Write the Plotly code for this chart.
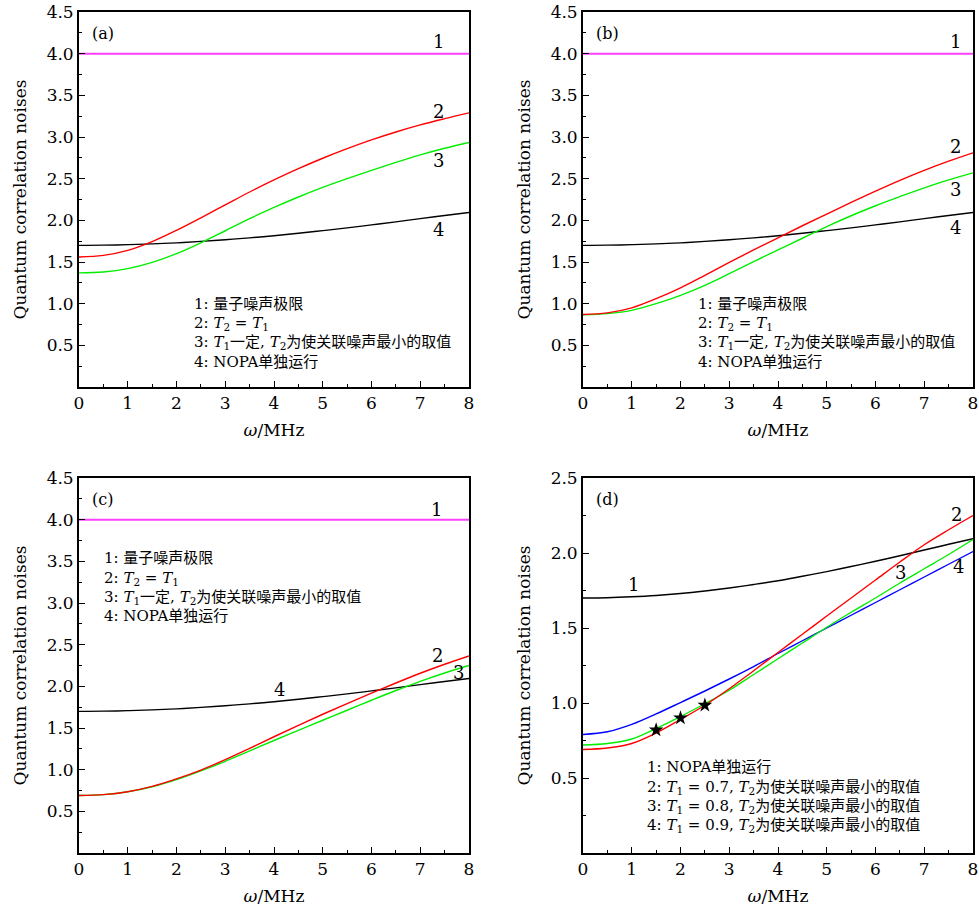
import plotly.graph_objects as go

# ---------------- data ----------------
omega = [0, 0.5, 1, 1.5, 2, 2.5, 3, 3.5, 4, 4.5, 5, 5.5, 6, 6.5, 7, 7.5, 8]

qnl = [4.0] * len(omega)
nopa = [1.700, 1.702, 1.708, 1.717, 1.730, 1.747, 1.767, 1.790, 1.815, 1.845, 1.876, 1.910, 1.945, 1.982, 2.020, 2.058, 2.095]

a_red = [1.560, 1.580, 1.640, 1.745, 1.880, 2.030, 2.185, 2.340, 2.485, 2.620, 2.745, 2.860, 2.965, 3.060, 3.145, 3.220, 3.290]
a_green = [1.370, 1.380, 1.420, 1.495, 1.600, 1.730, 1.875, 2.020, 2.155, 2.280, 2.395, 2.500, 2.600, 2.695, 2.785, 2.865, 2.935]

b_red = [0.870, 0.890, 0.950, 1.060, 1.190, 1.340, 1.495, 1.645, 1.790, 1.935, 2.075, 2.215, 2.350, 2.480, 2.600, 2.710, 2.810]
b_green = [0.865, 0.880, 0.920, 1.000, 1.100, 1.220, 1.360, 1.505, 1.645, 1.785, 1.925, 2.055, 2.175, 2.285, 2.390, 2.485, 2.570]

c_red = [0.690, 0.700, 0.735, 0.800, 0.890, 0.995, 1.120, 1.255, 1.395, 1.532, 1.665, 1.793, 1.918, 2.040, 2.157, 2.265, 2.365]
c_green = [0.690, 0.700, 0.735, 0.795, 0.880, 0.985, 1.100, 1.225, 1.350, 1.472, 1.593, 1.713, 1.833, 1.950, 2.060, 2.160, 2.250]

d_red = [0.690, 0.700, 0.730, 0.800, 0.890, 0.985, 1.095, 1.215, 1.337, 1.458, 1.580, 1.700, 1.820, 1.940, 2.055, 2.155, 2.250]
d_green = [0.720, 0.730, 0.760, 0.830, 0.910, 0.995, 1.085, 1.190, 1.295, 1.400, 1.505, 1.605, 1.700, 1.800, 1.895, 1.990, 2.090]
d_blue = [0.790, 0.808, 0.857, 0.927, 1.003, 1.080, 1.160, 1.243, 1.330, 1.415, 1.500, 1.585, 1.670, 1.755, 1.840, 1.925, 2.010]

star_x = [1.5, 2.0, 2.5]
star_y = [0.82, 0.90, 0.985]

x_ticks = [0, 1, 2, 3, 4, 5, 6, 7, 8]
y_ticks_abc = [0.5, 1.0, 1.5, 2.0, 2.5, 3.0, 3.5, 4.0, 4.5]
y_ticks_d = [0.5, 1.0, 1.5, 2.0, 2.5]

legend_abc = [
    "1: 量子噪声极限",
    "2: <i>T</i><sub>2</sub> = <i>T</i><sub>1</sub>",
    "3: <i>T</i><sub>1</sub>一定, <i>T</i><sub>2</sub>为使关联噪声最小的取值",
    "4: NOPA单独运行",
]
legend_d = [
    "1: NOPA单独运行",
    "2: <i>T</i><sub>1</sub> = 0.7, <i>T</i><sub>2</sub>为使关联噪声最小的取值",
    "3: <i>T</i><sub>1</sub> = 0.8, <i>T</i><sub>2</sub>为使关联噪声最小的取值",
    "4: <i>T</i><sub>1</sub> = 0.9, <i>T</i><sub>2</sub>为使关联噪声最小的取值",
]

# ---------------- style ----------------
FONT = "DejaVu Serif, Noto Sans CJK SC, serif"
MAG = "#ff40ff"
RED = "#ff0000"
GREEN = "#00ee00"
BLUE = "#0000ff"
BLACK = "#000000"
LW = 1.4

W, H = 979, 910
def px_x(a, b):
    return [a / W, b / W]
def px_y(top, bottom):
    return [1 - bottom / H, 1 - top / H]

panels = {
    1: dict(xd=px_x(79, 469), yd=px_y(12, 387)),
    2: dict(xd=px_x(583, 973), yd=px_y(12, 387)),
    3: dict(xd=px_x(79, 469), yd=px_y(478, 853)),
    4: dict(xd=px_x(583, 973), yd=px_y(478, 853)),
}

fig = go.Figure()

def add_line(n, y, color, width=LW):
    xa = "x" if n == 1 else f"x{n}"
    ya = "y" if n == 1 else f"y{n}"
    fig.add_trace(go.Scatter(x=omega, y=y, mode="lines", line=dict(color=color, width=width, shape="spline", smoothing=1.0),
                             xaxis=xa, yaxis=ya, showlegend=False, hoverinfo="skip"))

# panel a
add_line(1, qnl, MAG, 2); add_line(1, nopa, BLACK); add_line(1, a_green, GREEN); add_line(1, a_red, RED)
# panel b
add_line(2, qnl, MAG, 2); add_line(2, nopa, BLACK); add_line(2, b_green, GREEN); add_line(2, b_red, RED)
# panel c
add_line(3, qnl, MAG, 2); add_line(3, nopa, BLACK); add_line(3, c_green, GREEN); add_line(3, c_red, RED)
# panel d
add_line(4, nopa, BLACK); add_line(4, d_blue, BLUE); add_line(4, d_green, GREEN); add_line(4, d_red, RED)
fig.add_trace(go.Scatter(x=star_x, y=star_y, mode="markers", marker=dict(symbol="star", size=11, color=BLACK),
                         xaxis="x4", yaxis="y4", showlegend=False, hoverinfo="skip"))

layout = dict(template="none", width=W, height=H, margin=dict(l=0, r=0, t=0, b=0),
              paper_bgcolor="white", plot_bgcolor="white", showlegend=False,
              font=dict(family=FONT, size=16, color="black"))

for n, p in panels.items():
    sx = "" if n == 1 else str(n)
    layout[f"xaxis{sx}"] = dict(
        domain=p["xd"], range=[0, 8], anchor=f"y{sx}", tickvals=x_ticks, automargin=False,
        ticks="inside", ticklen=6, tickwidth=1.3, tickcolor="black",
        minor=dict(dtick=0.5, ticks="inside", ticklen=3, tickwidth=1.3, tickcolor="black"),
        showline=True, linecolor="black", linewidth=1.8, mirror=True,
        showgrid=False, zeroline=False, ticklabeloverflow="allow",
        tickfont=dict(family=FONT, size=17),
        title=dict(text="<i>ω</i>/MHz", font=dict(family=FONT, size=17), standoff=12),
    )
    yt = y_ticks_d if n == 4 else y_ticks_abc
    ymax = 2.5 if n == 4 else 4.5
    layout[f"yaxis{sx}"] = dict(
        domain=p["yd"], range=[0, ymax], anchor=f"x{sx}", tickvals=yt, automargin=False,
        ticktext=[f"{v:.1f}" for v in yt],
        ticks="inside", ticklen=6, tickwidth=1.3, tickcolor="black",
        minor=dict(dtick=0.25, ticks="inside", ticklen=3, tickwidth=1.3, tickcolor="black"),
        showline=True, linecolor="black", linewidth=1.8, mirror=True,
        showgrid=False, zeroline=False, ticklabeloverflow="allow",
        tickfont=dict(family=FONT, size=17),
        title=dict(text="Quantum correlation noises", font=dict(family=FONT, size=17), standoff=16),
    )

fig.update_layout(**layout)

def ann(n, x, y, text, size=18, xanchor="center"):
    sx = "" if n == 1 else str(n)
    fig.add_annotation(x=x, y=y, xref=f"x{sx}", yref=f"y{sx}", text=text, showarrow=False,
                       font=dict(family=FONT, size=size, color="black"), xanchor=xanchor, yanchor="middle")

# panel labels
ann(1, 0.22, 4.24, "(a)", 16, "left")
ann(2, 0.22, 4.24, "(b)", 16, "left")
ann(3, 0.22, 4.24, "(c)", 16, "left")
ann(4, 0.22, 2.36, "(d)", 16, "left")

# curve numbers
ann(1, 7.38, 4.14, "1"); ann(1, 7.38, 3.31, "2"); ann(1, 7.38, 2.72, "3"); ann(1, 7.38, 1.89, "4")
ann(2, 7.64, 4.15, "1"); ann(2, 7.64, 2.89, "2"); ann(2, 7.64, 2.37, "3"); ann(2, 7.64, 1.91, "4")
ann(3, 7.34, 4.12, "1"); ann(3, 7.36, 2.37, "2"); ann(3, 7.79, 2.17, "3"); ann(3, 4.12, 1.96, "4")
ann(4, 1.04, 1.79, "1"); ann(4, 7.67, 2.26, "2"); ann(4, 6.51, 1.87, "3"); ann(4, 7.70, 1.91, "4")

# text legends
LEG = 15
for t, yv in zip(legend_abc, [1.0, 0.76, 0.53, 0.30]):
    ann(1, 2.32, yv, t, LEG, "left")
    ann(2, 2.32, yv, t, LEG, "left")
for t, yv in zip(legend_abc, [3.54, 3.30, 3.07, 2.85]):
    ann(3, 0.48, yv, t, LEG, "left")
for t, yv in zip(legend_d, [0.573, 0.44, 0.311, 0.184]):
    ann(4, 1.28, yv, t, LEG, "left")

fig.write_html("out.html", config={"displayModeBar": False},
               post_script="document.body.style.margin='0';document.body.style.overflow='hidden';")
